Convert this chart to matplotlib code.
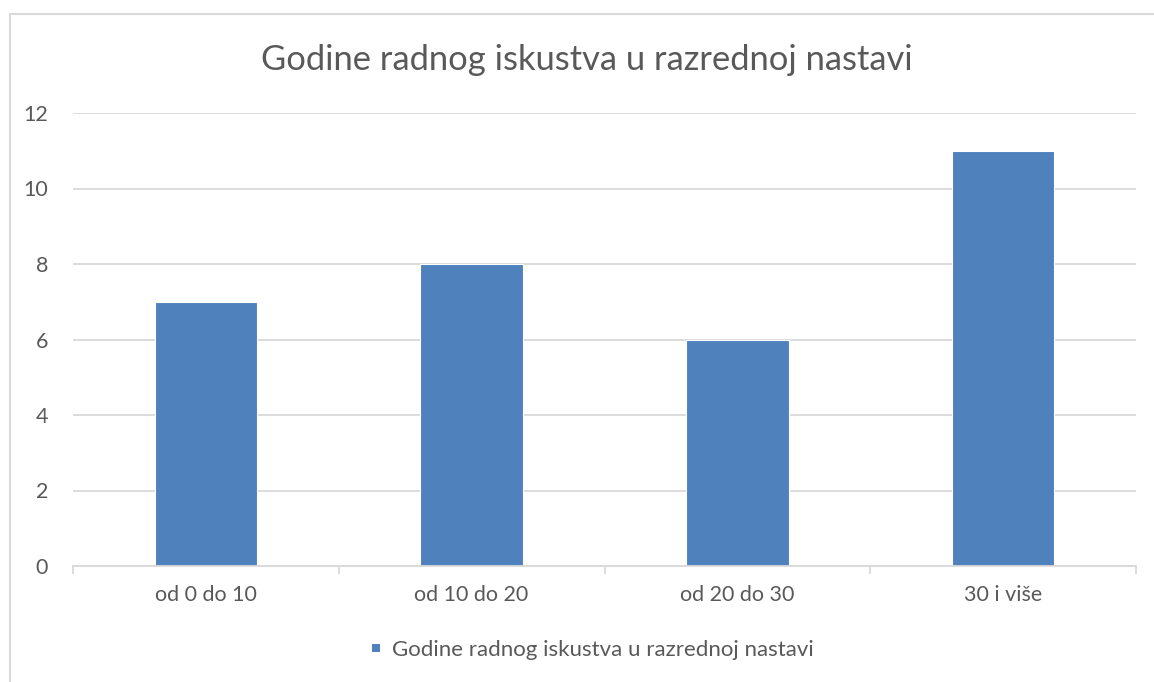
import matplotlib
matplotlib.use("Agg")
import matplotlib.pyplot as plt
from matplotlib.patches import Rectangle
from matplotlib.lines import Line2D

categories = ["od 0 do 10", "od 10 do 20", "od 20 do 30", "30 i više"]
values = [7, 8, 6, 11]
series_name = "Godine radnog iskustva u razrednoj nastavi"
title = "Godine radnog iskustva u razrednoj nastavi"
yticks = [0, 2, 4, 6, 8, 10, 12]
bar_color = '#4f81bd'

plt.rcParams['font.family'] = ['Lato', 'DejaVu Sans']
W, H = 1154, 682
fig = plt.figure(figsize=(W/100, H/100), dpi=100)
fig.patch.set_facecolor('white')

# chart frame (cropped on right and bottom)
fig.add_artist(Rectangle((9.5/W, -0.05), 1.2, (H - 13.5)/H + 0.05, transform=fig.transFigure,
                         fill=False, edgecolor='#d9d9d9', linewidth=1.5))

ax = fig.add_axes([73/W, 1 - 566/H, (1136-73)/W, (566-113)/H])
x = list(range(len(categories)))
ax.bar(x, values, width=0.385, color=bar_color, edgecolor='white', linewidth=0.8,
       label=series_name, zorder=3)
ax.set_xlim(-0.5, len(categories) - 0.5)
ax.set_ylim(0, 12)
ax.set_yticks(yticks)
ax.set_yticklabels([str(v) for v in yticks])
ax.yaxis.grid(True, color='#d9d9d9', linewidth=1.3, zorder=0)
ax.set_axisbelow(True)
for s in ['top', 'right', 'left']:
    ax.spines[s].set_visible(False)
ax.spines['bottom'].set_color('#d9d9d9')
ax.spines['bottom'].set_linewidth(1.3)
ax.spines['bottom'].set_zorder(4)
ax.tick_params(axis='y', length=0, labelsize=15.5, labelcolor='#595959', pad=18)
ax.set_xticks(x)
ax.set_xticklabels(categories)
ax.tick_params(axis='x', length=0, labelsize=15.5, labelcolor='#595959', pad=14)
ax.set_xticks([i - 0.5 for i in range(len(categories) + 1)], minor=True)
ax.tick_params(axis='x', which='minor', length=6, width=1.3, color='#d9d9d9')

fig.text(0.5 * (262 + 912) / W, 1 - 60/H, title, ha='center', va='center',
         fontsize=24.8, color='#595959')

handle = Line2D([], [], marker='s', linestyle='none', color=bar_color,
                markersize=6, markeredgewidth=0)
leg = fig.legend([handle], [series_name], loc='center', bbox_to_anchor=(592/W, 1 - 650/H),
                 frameon=False, fontsize=16, handlelength=0.5, handletextpad=0.5)
for t in leg.get_texts():
    t.set_color('#595959')

fig.savefig('out.png', dpi=100, facecolor='white')
